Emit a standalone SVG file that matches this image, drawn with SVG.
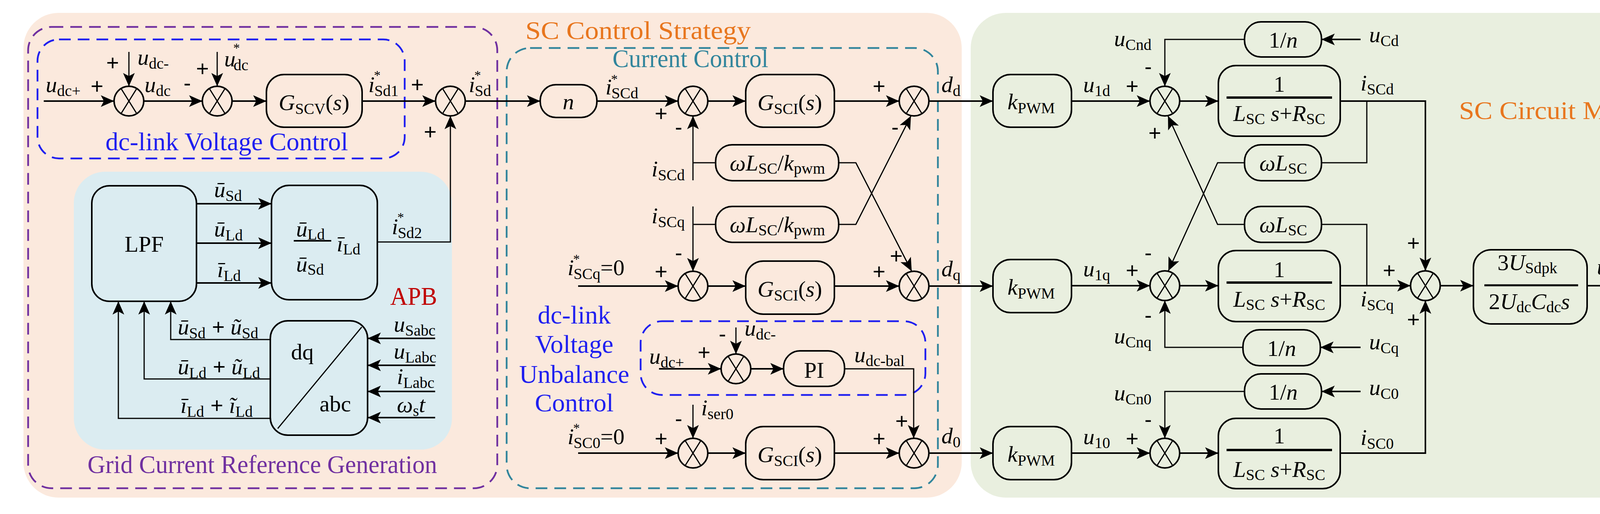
<svg xmlns="http://www.w3.org/2000/svg" xmlns:xlink="http://www.w3.org/1999/xlink" width="4403" height="1317" viewBox="0 0 4403 1317">
<style>
text{font-family:"Liberation Serif",serif;font-size:58px;fill:#000}
.v{font-style:italic}
.s{font-size:40px;font-style:normal}
.st{font-size:34px;font-style:normal}
.pm{font-family:"Liberation Sans",sans-serif;font-size:56px}
.box{fill:none;stroke:#000;stroke-width:4}
.ln{fill:none;stroke:#000;stroke-width:4}
.fb{fill:none;stroke:#000;stroke-width:3}
.ar{marker-end:url(#ah)}
.ttl{font-size:66px}
</style>
<defs>
<marker id="ah" markerUnits="userSpaceOnUse" markerWidth="34" markerHeight="30" viewBox="0 0 34 30" refX="34" refY="15" orient="auto"><path d="M0,0 L34,15 L0,30 L8,15 z" fill="#000"/></marker>
<g id="sx"><circle r="38" fill="none" stroke="#000" stroke-width="4"/><line x1="-20" y1="-32" x2="20" y2="32" stroke="#000" stroke-width="3"/><line x1="20" y1="-32" x2="-20" y2="32" stroke="#000" stroke-width="3"/></g>
</defs>

<g id="panels">
<rect x="60" y="33" width="2402" height="1242" rx="90" fill="#FBE9DD"/>
<rect x="2485" y="33" width="1888" height="1242" rx="90" fill="#E9EFDF"/>
<rect x="189" y="440" width="968" height="712" rx="80" fill="#DBECF1"/>
<rect x="72" y="69" width="1201" height="1182" rx="60" fill="none" stroke="#7030A0" stroke-width="4.5" stroke-dasharray="30 18"/>
<rect x="96" y="101" width="940" height="305" rx="55" fill="none" stroke="#1F1FF0" stroke-width="4.5" stroke-dasharray="30 18"/>
<rect x="1297" y="123" width="1104" height="1128" rx="60" fill="none" stroke="#31859C" stroke-width="4.5" stroke-dasharray="30 18"/>
<rect x="1640" y="823" width="729" height="189" rx="55" fill="none" stroke="#1F1FF0" stroke-width="4.5" stroke-dasharray="30 18"/>
<text x="1345" y="100" class="ttl" style="fill:#E8761E" textLength="577" lengthAdjust="spacingAndGlyphs">SC Control Strategy</text>
<text x="1568" y="172" class="ttl" style="fill:#31859C" textLength="399" lengthAdjust="spacingAndGlyphs">Current Control</text>
<text x="270" y="385" class="ttl" style="fill:#1F1FF0" textLength="621" lengthAdjust="spacingAndGlyphs">dc-link Voltage  Control</text>
<text x="224" y="1212" class="ttl" style="fill:#7030A0" textLength="895" lengthAdjust="spacingAndGlyphs">Grid Current Reference Generation</text>
<text x="999" y="781" class="ttl" style="fill:#C00000" textLength="120" lengthAdjust="spacingAndGlyphs">APB</text>
<text class="ttl" style="fill:#1F1FF0" text-anchor="middle"><tspan x="1470" y="829">dc-link</tspan><tspan x="1470" y="904">Voltage</tspan><tspan x="1470" y="981">Unbalance</tspan><tspan x="1470" y="1054">Control</tspan></text>
<text x="3735" y="305" class="ttl" style="fill:#E8761E" textLength="500" lengthAdjust="spacingAndGlyphs">SC Circuit Model</text>
</g>

<g id="sum1"><use xlink:href="#sx" x="330" y="259"/></g>
<g id="sum2"><use xlink:href="#sx" x="556" y="259"/></g>
<g id="gscv"><rect class="box" x="682" y="191" width="245" height="135" rx="45"/><text x="804" y="282" text-anchor="middle" font-size="64"><tspan class="v">G</tspan><tspan class="s" dy="10">SCV</tspan><tspan dy="-10">(</tspan><tspan class="v">s</tspan>)</text></g>
<g id="sum3"><use xlink:href="#sx" x="1153" y="259"/></g>
<g id="lpf"><rect class="box" x="235" y="476" width="268" height="296" rx="45"/><text x="369" y="645" text-anchor="middle" font-size="62">LPF</text></g>
<g id="calc"><rect class="box" x="695" y="475" width="271" height="293" rx="45"/>
<text x="758" y="606" class="v">ū<tspan class="s" dy="8">Ld</tspan></text>
<line x1="752" y1="617" x2="848" y2="617" stroke="#000" stroke-width="4"/>
<text x="758" y="696" class="v">ū<tspan class="s" dy="8">Sd</tspan></text>
<text x="862" y="644" class="v">ī<tspan class="s" dy="8">Ld</tspan></text></g>
<g id="dqabc"><rect class="box" x="692" y="822" width="249" height="293" rx="45"/><line x1="926" y1="838" x2="711" y2="1098" stroke="#000" stroke-width="3"/><text x="745" y="921" font-size="58">dq</text><text x="818" y="1054" font-size="58">abc</text></g>

<g id="nbox"><rect class="box" x="1383" y="217" width="145" height="84" rx="40"/><text x="1455" y="280" class="v" text-anchor="middle">n</text></g>
<g id="sumd1"><use xlink:href="#sx" x="1774" y="259"/></g>
<g id="gscid"><rect class="box" x="1909" y="191" width="227" height="135" rx="45"/><text x="2022" y="282" text-anchor="middle" font-size="64"><tspan class="v">G</tspan><tspan class="s" dy="10">SCI</tspan><tspan dy="-10">(</tspan><tspan class="v">s</tspan>)</text></g>
<g id="sumd2"><use xlink:href="#sx" x="2340" y="259"/></g>
<g id="wl1"><rect class="box" x="1832" y="371" width="315" height="92" rx="42"/><text x="1990" y="437" text-anchor="middle"><tspan class="v">ωL</tspan><tspan class="s" dy="8">SC</tspan><tspan dy="-8">/</tspan><tspan class="v">k</tspan><tspan class="s" dy="8">pwm</tspan></text></g>
<g id="wl2"><rect class="box" x="1832" y="529" width="315" height="92" rx="42"/><text x="1990" y="595" text-anchor="middle"><tspan class="v">ωL</tspan><tspan class="s" dy="8">SC</tspan><tspan dy="-8">/</tspan><tspan class="v">k</tspan><tspan class="s" dy="8">pwm</tspan></text></g>
<g id="sumq1"><use xlink:href="#sx" x="1774" y="733"/></g>
<g id="gsciq"><rect class="box" x="1909" y="669" width="227" height="136" rx="45"/><text x="2022" y="760" text-anchor="middle" font-size="64"><tspan class="v">G</tspan><tspan class="s" dy="10">SCI</tspan><tspan dy="-10">(</tspan><tspan class="v">s</tspan>)</text></g>
<g id="sumq2"><use xlink:href="#sx" x="2340" y="733"/></g>
<g id="sumu"><use xlink:href="#sx" x="1884" y="945"/></g>
<g id="pi"><rect class="box" x="2006" y="899" width="156" height="91" rx="42"/><text x="2084" y="968" text-anchor="middle" font-size="60">PI</text></g>
<g id="sum01"><use xlink:href="#sx" x="1774" y="1161"/></g>
<g id="gsci0"><rect class="box" x="1909" y="1093" width="227" height="136" rx="45"/><text x="2022" y="1184" text-anchor="middle" font-size="64"><tspan class="v">G</tspan><tspan class="s" dy="10">SCI</tspan><tspan dy="-10">(</tspan><tspan class="v">s</tspan>)</text></g>
<g id="sum02"><use xlink:href="#sx" x="2340" y="1161"/></g>

<g id="kpwmd"><rect class="box" x="2542" y="191" width="201" height="135" rx="45"/><text x="2640" y="280" text-anchor="middle"><tspan class="v">k</tspan><tspan class="s" dy="10">PWM</tspan></text></g>
<g id="kpwmq"><rect class="box" x="2542" y="665" width="201" height="136" rx="45"/><text x="2640" y="755" text-anchor="middle"><tspan class="v">k</tspan><tspan class="s" dy="10">PWM</tspan></text></g>
<g id="kpwm0"><rect class="box" x="2542" y="1093" width="201" height="136" rx="45"/><text x="2640" y="1183" text-anchor="middle"><tspan class="v">k</tspan><tspan class="s" dy="10">PWM</tspan></text></g>
<g id="sumcd"><use xlink:href="#sx" x="2982" y="259"/></g>
<g id="sumcq"><use xlink:href="#sx" x="2982" y="732"/></g>
<g id="sumc0"><use xlink:href="#sx" x="2982" y="1161"/></g>
<g id="lrd"><rect class="box" x="3119" y="168" width="312" height="181" rx="45"/><text x="3275" y="235" text-anchor="middle">1</text><line x1="3140" y1="250" x2="3410" y2="250" stroke="#000" stroke-width="6"/><text x="3275" y="310" text-anchor="middle"><tspan class="v">L</tspan><tspan class="s" dy="8">SC</tspan><tspan class="v" dy="-8"> s</tspan>+<tspan class="v">R</tspan><tspan class="s" dy="8">SC</tspan></text></g>
<g id="lrq"><rect class="box" x="3119" y="642" width="312" height="182" rx="45"/><text x="3275" y="710" text-anchor="middle">1</text><line x1="3140" y1="724" x2="3410" y2="724" stroke="#000" stroke-width="6"/><text x="3275" y="786" text-anchor="middle"><tspan class="v">L</tspan><tspan class="s" dy="8">SC</tspan><tspan class="v" dy="-8"> s</tspan>+<tspan class="v">R</tspan><tspan class="s" dy="8">SC</tspan></text></g>
<g id="lr0"><rect class="box" x="3119" y="1072" width="312" height="180" rx="45"/><text x="3275" y="1136" text-anchor="middle">1</text><line x1="3140" y1="1153" x2="3410" y2="1153" stroke="#000" stroke-width="6"/><text x="3275" y="1222" text-anchor="middle"><tspan class="v">L</tspan><tspan class="s" dy="8">SC</tspan><tspan class="v" dy="-8"> s</tspan>+<tspan class="v">R</tspan><tspan class="s" dy="8">SC</tspan></text></g>
<g id="inv1"><rect class="box" x="3186" y="56" width="197" height="90" rx="42"/><text x="3285" y="122" text-anchor="middle">1/<tspan class="v">n</tspan></text></g>
<g id="inv2"><rect class="box" x="3182" y="845" width="198" height="92" rx="42"/><text x="3281" y="912" text-anchor="middle">1/<tspan class="v">n</tspan></text></g>
<g id="inv3"><rect class="box" x="3186" y="958" width="197" height="90" rx="42"/><text x="3285" y="1024" text-anchor="middle">1/<tspan class="v">n</tspan></text></g>
<g id="wlc1"><rect class="box" x="3186" y="371" width="197" height="92" rx="42"/><text x="3285" y="437" text-anchor="middle"><tspan class="v">ωL</tspan><tspan class="s" dy="8">SC</tspan></text></g>
<g id="wlc2"><rect class="box" x="3186" y="529" width="197" height="92" rx="42"/><text x="3285" y="595" text-anchor="middle"><tspan class="v">ωL</tspan><tspan class="s" dy="8">SC</tspan></text></g>
<g id="sumf"><use xlink:href="#sx" x="3649" y="732"/></g>
<g id="cdc"><rect class="box" x="3772" y="640" width="291" height="190" rx="45"/><text x="3910" y="692" text-anchor="middle">3<tspan class="v">U</tspan><tspan class="s" dy="8">Sdpk</tspan></text><line x1="3800" y1="731" x2="4040" y2="731" stroke="#000" stroke-width="5"/><text x="3915" y="792" text-anchor="middle">2<tspan class="v">U</tspan><tspan class="s" dy="8">dc</tspan><tspan class="v" dy="-8">C</tspan><tspan class="s" dy="8">dc</tspan><tspan class="v" dy="-8">s</tspan></text></g>

<g id="connectors">
<line class="ln ar" x1="112" y1="259" x2="292" y2="259"/>
<line class="fb ar" x1="330" y1="133" x2="330" y2="221"/>
<line class="ln ar" x1="368" y1="259" x2="518" y2="259"/>
<line class="fb ar" x1="556" y1="133" x2="556" y2="221"/>
<line class="ln ar" x1="594" y1="259" x2="682" y2="259"/>
<line class="ln ar" x1="927" y1="259" x2="1115" y2="259"/>
<polyline class="fb ar" points="966,620 1153,620 1153,297"/>
<line class="ln ar" x1="1191" y1="259" x2="1383" y2="259"/>
<line class="ln ar" x1="503" y1="522" x2="695" y2="522"/>
<line class="ln ar" x1="503" y1="623" x2="695" y2="623"/>
<line class="ln ar" x1="503" y1="725" x2="695" y2="725"/>
<polyline class="fb ar" points="692,870 437,870 437,772"/>
<polyline class="fb ar" points="692,971 369,971 369,772"/>
<polyline class="fb ar" points="692,1072 303,1072 303,772"/>
<line class="ln ar" x1="1114" y1="867" x2="941" y2="867"/>
<line class="ln ar" x1="1114" y1="936" x2="941" y2="936"/>
<line class="ln ar" x1="1114" y1="1003" x2="941" y2="1003"/>
<line class="ln ar" x1="1114" y1="1070" x2="941" y2="1070"/>
<line class="ln ar" x1="1528" y1="259" x2="1736" y2="259"/>
<line class="ln ar" x1="1812" y1="259" x2="1909" y2="259"/>
<line class="ln ar" x1="2136" y1="259" x2="2302" y2="259"/>
<line class="ln ar" x1="2378" y1="259" x2="2542" y2="259"/>
<line class="fb ar" x1="1774" y1="462" x2="1774" y2="297"/>
<line class="fb" x1="1774" y1="417" x2="1832" y2="417"/>
<line class="fb ar" x1="1774" y1="529" x2="1774" y2="695"/>
<line class="fb" x1="1774" y1="575" x2="1832" y2="575"/>
<polyline class="fb ar" points="2147,417 2191,417 2334,695"/>
<polyline class="fb ar" points="2147,575 2191,575 2332,297"/>
<line class="ln ar" x1="1480" y1="733" x2="1736" y2="733"/>
<line class="ln ar" x1="1812" y1="733" x2="1909" y2="733"/>
<line class="ln ar" x1="2136" y1="733" x2="2302" y2="733"/>
<line class="ln ar" x1="2378" y1="733" x2="2542" y2="733"/>
<line class="ln ar" x1="1687" y1="945" x2="1846" y2="945"/>
<line class="fb ar" x1="1884" y1="839" x2="1884" y2="907"/>
<line class="ln ar" x1="1922" y1="945" x2="2006" y2="945"/>
<polyline class="fb ar" points="2162,945 2339,945 2339,1123"/>
<line class="fb ar" x1="1774" y1="1037" x2="1774" y2="1123"/>
<line class="ln ar" x1="1480" y1="1161" x2="1736" y2="1161"/>
<line class="ln ar" x1="1812" y1="1161" x2="1909" y2="1161"/>
<line class="ln ar" x1="2136" y1="1161" x2="2302" y2="1161"/>
<line class="ln ar" x1="2378" y1="1161" x2="2542" y2="1161"/>
<line class="ln ar" x1="2743" y1="259" x2="2944" y2="259"/>
<line class="ln ar" x1="3020" y1="259" x2="3119" y2="259"/>
<line class="ln ar" x1="2743" y1="732" x2="2944" y2="732"/>
<line class="ln ar" x1="3020" y1="732" x2="3119" y2="732"/>
<line class="ln ar" x1="2743" y1="1161" x2="2944" y2="1161"/>
<line class="ln ar" x1="3020" y1="1161" x2="3119" y2="1161"/>
<line class="ln ar" x1="3483" y1="101" x2="3383" y2="101"/>
<polyline class="fb ar" points="3186,101 2982,101 2982,221"/>
<line class="ln ar" x1="3483" y1="890" x2="3380" y2="890"/>
<polyline class="fb ar" points="3182,890 2982,890 2982,770"/>
<line class="ln ar" x1="3483" y1="1003" x2="3383" y2="1003"/>
<polyline class="fb ar" points="3186,1003 2982,1003 2982,1123"/>
<polyline class="ln ar" points="3431,259 3649,259 3649,694"/>
<polyline class="fb" points="3499,259 3499,417 3383,417"/>
<polyline class="fb" points="3383,575 3499,575 3499,732"/>
<line class="ln ar" x1="3431" y1="732" x2="3611" y2="732"/>
<polyline class="ln ar" points="3431,1161 3649,1161 3649,770"/>
<polyline class="fb ar" points="3186,417 3117,417 2991,694"/>
<polyline class="fb ar" points="3186,575 3117,575 2990,297"/>
<line class="ln ar" x1="3687" y1="732" x2="3772" y2="732"/>
<line class="ln ar" x1="4063" y1="732" x2="4357" y2="732"/>
</g>

<g id="labels">
<text x="117" y="236" class="v">u<tspan class="s" dy="10">dc+</tspan></text>
<text x="232" y="240" class="pm">+</text>
<text x="272" y="180" class="pm">+</text>
<text x="352" y="166" class="v">u<tspan class="s" dy="10">dc-</tspan></text>
<text x="370" y="236" class="v">u<tspan class="s" dy="10">dc</tspan></text>
<text x="470" y="232" class="pm">-</text>
<text x="502" y="195" class="pm">+</text>
<text x="574" y="170" class="v">u<tspan class="st" dy="-36" dx="-6">*</tspan><tspan class="s" dy="46" dx="-16">dc</tspan></text>
<text x="943" y="236" class="v">i<tspan class="st" dy="-32" dx="-2">*</tspan><tspan class="s" dy="42" dx="-16">Sd1</tspan></text>
<text x="1052" y="236" class="pm">+</text>
<text x="1085" y="357" class="pm">+</text>
<text x="1200" y="236" class="v">i<tspan class="st" dy="-32" dx="-2">*</tspan><tspan class="s" dy="42" dx="-16">Sd</tspan></text>
<text x="548" y="505" class="v">ū<tspan class="s" dy="10">Sd</tspan></text>
<text x="548" y="606" class="v">ū<tspan class="s" dy="10">Ld</tspan></text>
<text x="556" y="710" class="v">ī<tspan class="s" dy="10">Ld</tspan></text>
<text x="1003" y="600" class="v">i<tspan class="st" dy="-32" dx="-2">*</tspan><tspan class="s" dy="42" dx="-16">Sd2</tspan></text>
<text x="455" y="857" class="v">ū<tspan class="s" dy="10">Sd</tspan><tspan class="pm" dy="-10"> + </tspan>ũ<tspan class="s" dy="10">Sd</tspan></text>
<text x="455" y="959" class="v">ū<tspan class="s" dy="10">Ld</tspan><tspan class="pm" dy="-10"> + </tspan>ũ<tspan class="s" dy="10">Ld</tspan></text>
<text x="462" y="1058" class="v">ī<tspan class="s" dy="10">Ld</tspan><tspan class="pm" dy="-10"> + </tspan>ĩ<tspan class="s" dy="10">Ld</tspan></text>
<text x="1008" y="850" class="v">u<tspan class="s" dy="10">Sabc</tspan></text>
<text x="1008" y="919" class="v">u<tspan class="s" dy="10">Labc</tspan></text>
<text x="1016" y="984" class="v">i<tspan class="s" dy="10">Labc</tspan></text>
<text x="1016" y="1056" class="v">ω<tspan class="s" dy="10">s</tspan><tspan dy="-10">t</tspan></text>
<text x="1550" y="242" class="v">i<tspan class="st" dy="-28" dx="-2">*</tspan><tspan class="s" dy="38" dx="-16">SCd</tspan></text>
<text x="1676" y="310" class="pm">+</text>
<text x="1728" y="345" class="pm">-</text>
<text x="1668" y="452" class="v">i<tspan class="s" dy="10">SCd</tspan></text>
<text x="1668" y="572" class="v">i<tspan class="s" dy="10">SCq</tspan></text>
<text x="2234" y="240" class="pm">+</text>
<text x="2282" y="345" class="pm">-</text>
<text x="2410" y="236" class="v">d<tspan class="s" dy="10">d</tspan></text>
<text x="1453" y="705" class="v">i<tspan class="st" dy="-30" dx="-2">*</tspan><tspan class="s" dy="40" dx="-16">SCq</tspan><tspan dy="-10" style="font-style:normal">=0</tspan></text>
<text x="1676" y="715" class="pm">+</text>
<text x="1728" y="667" class="pm">-</text>
<text x="2234" y="715" class="pm">+</text>
<text x="2278" y="675" class="pm">+</text>
<text x="2410" y="708" class="v">d<tspan class="s" dy="10">q</tspan></text>
<text x="1662" y="932" class="v">u<tspan class="s" dy="10">dc+</tspan></text>
<text x="1786" y="922" class="pm">+</text>
<text x="1840" y="875" class="pm">-</text>
<text x="1906" y="860" class="v">u<tspan class="s" dy="10">dc-</tspan></text>
<text x="2187" y="928" class="v">u<tspan class="s" dy="10">dc-bal</tspan></text>
<text x="1795" y="1064" class="v">i<tspan class="s" dy="10">ser0</tspan></text>
<text x="1728" y="1092" class="pm">-</text>
<text x="1453" y="1138" class="v">i<tspan class="st" dy="-30" dx="-2">*</tspan><tspan class="s" dy="40" dx="-16">SC0</tspan><tspan dy="-10" style="font-style:normal">=0</tspan></text>
<text x="1676" y="1143" class="pm">+</text>
<text x="2234" y="1143" class="pm">+</text>
<text x="2292" y="1098" class="pm">+</text>
<text x="2410" y="1136" class="v">d<tspan class="s" dy="10">0</tspan></text>
<text x="2773" y="236" class="v">u<tspan class="s" dy="10">1d</tspan></text>
<text x="2882" y="240" class="pm">+</text>
<text x="2930" y="190" class="pm">-</text>
<text x="2940" y="360" class="pm">+</text>
<text x="2852" y="118" class="v">u<tspan class="s" dy="10">Cnd</tspan></text>
<text x="3505" y="108" class="v">u<tspan class="s" dy="10">Cd</tspan></text>
<text x="3483" y="232" class="v">i<tspan class="s" dy="10">SCd</tspan></text>
<text x="3602" y="642" class="pm">+</text>
<text x="2773" y="708" class="v">u<tspan class="s" dy="10">1q</tspan></text>
<text x="2882" y="712" class="pm">+</text>
<text x="2930" y="667" class="pm">-</text>
<text x="2930" y="827" class="pm">-</text>
<text x="2852" y="880" class="v">u<tspan class="s" dy="10">Cnq</tspan></text>
<text x="3505" y="895" class="v">u<tspan class="s" dy="10">Cq</tspan></text>
<text x="3483" y="785" class="v">i<tspan class="s" dy="10">SCq</tspan></text>
<text x="3540" y="712" class="pm">+</text>
<text x="3602" y="838" class="pm">+</text>
<text x="4088" y="703" class="v">u<tspan class="s" dy="10">dc+</tspan><tspan class="pm" dy="-22">+</tspan><tspan dy="12">u</tspan><tspan class="s" dy="10">dc-</tspan></text>
<text x="2852" y="1026" class="v">u<tspan class="s" dy="10">Cn0</tspan></text>
<text x="3505" y="1012" class="v">u<tspan class="s" dy="10">C0</tspan></text>
<text x="2930" y="1094" class="pm">-</text>
<text x="2773" y="1138" class="v">u<tspan class="s" dy="10">10</tspan></text>
<text x="2882" y="1143" class="pm">+</text>
<text x="3483" y="1140" class="v">i<tspan class="s" dy="10">SC0</tspan></text>
</g>
</svg>
